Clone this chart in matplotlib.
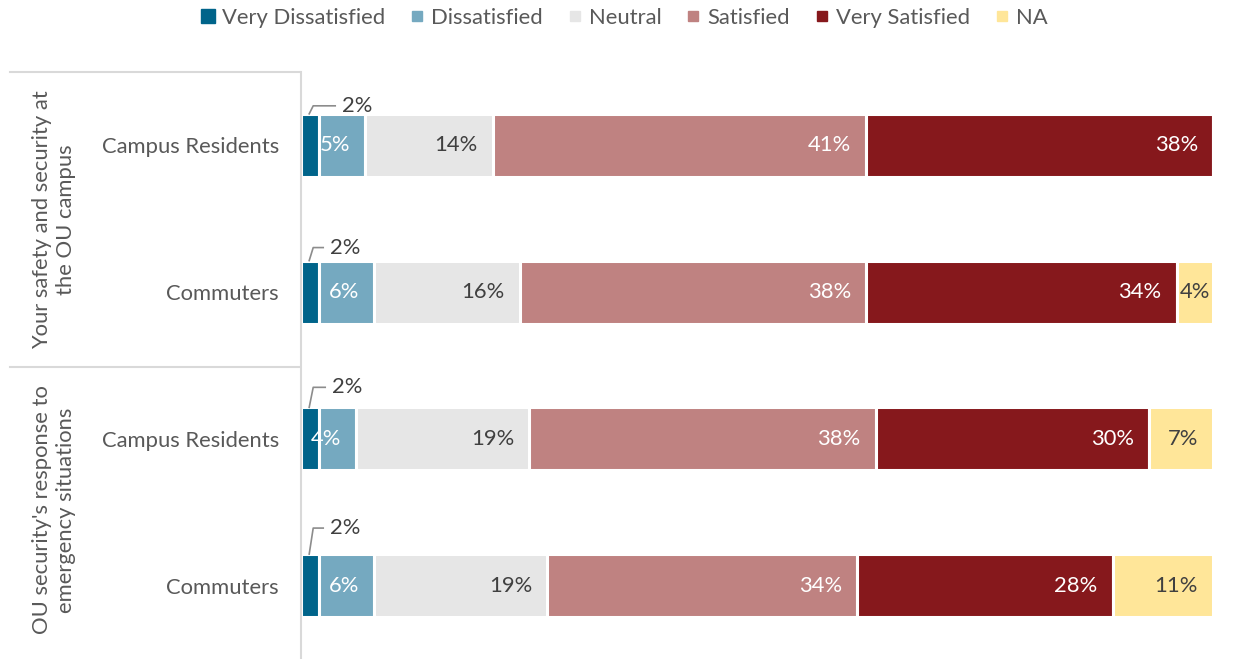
import matplotlib.pyplot as plt
from matplotlib.lines import Line2D

plt.rcParams['font.family'] = ['Lato', 'DejaVu Sans']

# survey results, percent of respondents
rows = ["Campus Residents", "Commuters", "Campus Residents", "Commuters"]
groups = ["Your safety and security at\nthe OU campus",
          "OU security's response to\nemergency situations"]
levels = ["Very Dissatisfied", "Dissatisfied", "Neutral", "Satisfied", "Very Satisfied", "NA"]
very_dissatisfied = [2, 2, 2, 2]
dissatisfied = [5, 6, 4, 6]
neutral = [14, 16, 19, 19]
satisfied = [41, 38, 38, 34]
very_satisfied = [38, 34, 30, 28]
na = [0, 4, 7, 11]

series = [very_dissatisfied, dissatisfied, neutral, satisfied, very_satisfied, na]
colors = ["#00648A", "#75A9C0", "#E6E6E6", "#BF8281", "#86181C", "#FFE699"]
text_colors = [None, "white", "#404040", "white", "white", "#404040"]
FS = 15.8

W, H = 1233, 659
fig = plt.figure(figsize=(W / 100, H / 100), dpi=100)
ax = fig.add_axes([301 / W, 0, 912 / W, (H - 72) / H])

ax.set_xlim(0, 100)
ax.set_ylim(3.5, -0.5)
px_x = 100 / 912
px_y = 4 / (H - 72)

y = list(range(len(rows)))
bar_h = 0.43
left = [0] * len(rows)
for k, (vals, c) in enumerate(zip(series, colors)):
    ax.barh(y, vals, left=left, height=bar_h, color=c, edgecolor="white", linewidth=2.2)
    for i, v in enumerate(vals):
        if v == 0 or k == 0:
            continue
        start, end = left[i], left[i] + v
        if levels[k] == "NA" and v <= 4:
            ax.text((start + end) / 2, i, f"{v}%", ha="center", va="center",
                    fontsize=FS, color=text_colors[k])
        else:
            ax.text(end - 15 * px_x, i, f"{v}%", ha="right", va="center",
                    fontsize=FS, color=text_colors[k])
    left = [a + b for a, b in zip(left, vals)]

# leader lines for the thin first segment
rise = [8, 13, 20, 26]
run = [22, 10, 12, 10]
for i, v in enumerate(very_dissatisfied):
    x0 = v / 2 - 0.1
    y0 = i - bar_h / 2
    x1 = x0 + 4 * px_x
    y1 = y0 - rise[i] * px_y
    x2 = x1 + run[i] * px_x
    ax.plot([x0, x1, x2], [y0, y1, y1], color="#8C8C8C", lw=1.2, clip_on=False)
    ax.text(x2 + 7 * px_x, y1, f"{v}%", ha="left", va="center", fontsize=FS, color="#404040")

ax.set_yticks(y)
ax.set_yticklabels(rows, fontsize=FS, color="#595959")
ax.tick_params(axis="y", length=0, pad=16)
ax.set_xticks([])
for s in ["top", "right", "bottom"]:
    ax.spines[s].set_visible(False)
ax.spines["left"].set_color("#D9D9D9")
ax.spines["left"].set_linewidth(1.5)

# group separators and group titles
for yy in [72, 367]:
    fig.add_artist(Line2D([10 / W, 300 / W], [1 - yy / H] * 2, color="#D9D9D9", lw=1.5))
for g, yc in zip(groups, [220, 510]):
    fig.text(54 / W, 1 - yc / H, g, rotation=90, ha="center", va="center",
             fontsize=FS, color="#595959", linespacing=1.25)

handles = [Line2D([], [], marker="s", linestyle="none", color=c,
                  markersize=(10 if k == 0 else 7)) for k, c in enumerate(colors)]
fig.legend(handles, levels, loc="center", bbox_to_anchor=(624 / W, 1 - 18 / H), ncol=6,
           frameon=False, fontsize=FS, labelcolor="#595959", handlelength=0.7,
           handletextpad=0.3, columnspacing=1.1)

fig.savefig("out.png", dpi=100)
